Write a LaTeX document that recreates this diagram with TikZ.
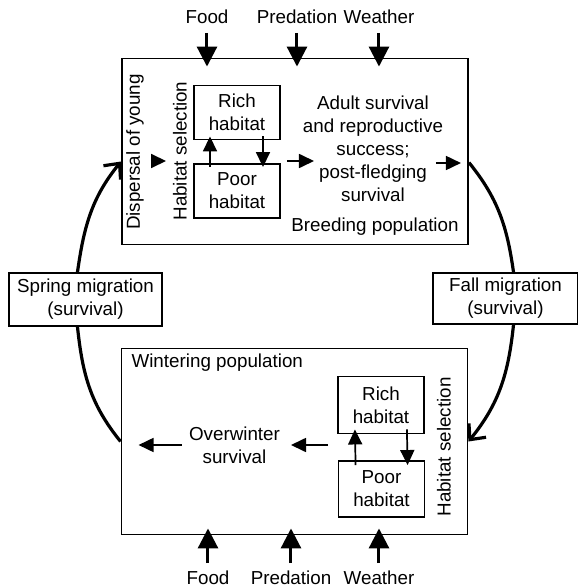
\documentclass[tikz,border=0pt]{standalone}
\usepackage{fontspec}
\setmainfont{Liberation Sans}
\usetikzlibrary{arrows.meta}

\begin{document}
\begin{tikzpicture}[x=0.5pt, y=0.5pt,
    every node/.style={font=\fontsize{9.4}{11.5}\selectfont},
    popbox/.style={draw, line width=0.95pt, minimum width=173pt, minimum height=93pt},
    habbox/.style={draw, line width=0.95pt, minimum width=43pt, minimum height=27pt, align=center, inner sep=1pt},
    migbox/.style={draw, line width=0.95pt, align=center, inner sep=1pt},
    bigarrow/.style={-{Triangle[length=10pt, width=10pt]}, line width=1.5pt},
    smallarrow/.style={-{Triangle[length=7.5pt, width=7pt]}, line width=0.85pt},
    loopline/.style={line width=1.6pt},
    looparrow/.style={loopline, -{Straight Barb[length=6pt, width=11pt, line width=1.6pt]}}]
    \useasboundingbox (0,0) rectangle (578,586);

    \node[popbox] (breed) at (295,434.5) {};
    \node[popbox] (winter) at (294.5,144.5) {};

    \node[migbox, minimum width=76.5pt, minimum height=26.5pt] (spring) at (85.5,286.5) {Spring migration\\(survival)};
    \node[migbox, minimum width=72.5pt, minimum height=25.5pt] (fall) at (505.5,287.5) {Fall migration\\(survival)};

    \node (foodT) at (207,569) {Food};
    \node (predT) at (297,569) {Predation};
    \node (weatT) at (379,569) {Weather};
    \node (foodB) at (208,8) {Food};
    \node (predB) at (291,8) {Predation};
    \node (weatB) at (379,8) {Weather};

    \draw[bigarrow, shorten <=1pt, shorten >=-4.5pt] (foodT) -- (foodT |- breed.north);
    \draw[bigarrow, shorten <=1pt, shorten >=-4.5pt] (predT) -- (predT |- breed.north);
    \draw[bigarrow, shorten <=1pt, shorten >=-4.5pt] (weatT) -- (weatT |- breed.north);
    \draw[bigarrow, shorten <=0.5pt, shorten >=-3.5pt] (foodB) -- (foodB |- winter.south);
    \draw[bigarrow, shorten <=0.5pt, shorten >=-3.5pt] (predB) -- (predB |- winter.south);
    \draw[bigarrow, shorten <=0.5pt, shorten >=-3.5pt] (weatB) -- (weatB |- winter.south);

    \node[rotate=90] (dispT) at (135,434) {Dispersal of young};
    \node[rotate=90] (hselT) at (180,435) {Habitat selection};
    \node[habbox] (richT) at (237,473.5) {Rich\\habitat};
    \node[habbox] (poorT) at (237,395) {Poor\\habitat};
    \node[align=center] (adultT) at (373,437.5) {Adult survival\\and reproductive\\success;\\post-fledging\\survival};
    \node (breedT) at (375,359) {Breeding population};

    \coordinate (adultIn) at (314,425);
    \coordinate (adultOut) at (436,423);
    \draw[smallarrow] (dispT.south |- adultIn) -- (hselT.north |- adultIn);
    \draw[smallarrow, shorten <=-2pt, shorten >=-2pt] ([xshift=-13.5pt]poorT.north) -- ([xshift=-13.5pt]richT.south);
    \draw[smallarrow, shorten <=-2pt, shorten >=-2pt] ([xshift=13pt]richT.south) -- ([xshift=13pt]poorT.north);
    \draw[smallarrow, shorten <=3pt] (poorT.east |- adultIn) -- (adultIn);
    \draw[smallarrow, shorten >=4pt] (adultOut) -- (breed.east |- adultOut);

    \node[anchor=west] (winterT) at (124.5,223) {Wintering population};
    \node[align=center] (owT) at (234.5,141) {Overwinter\\survival};
    \node[habbox, minimum height=28.5pt] (richB) at (381,181) {Rich\\habitat};
    \node[habbox, minimum height=28pt] (poorB) at (381.5,97) {Poor\\habitat};
    \node[rotate=90] (hselB) at (444,139) {Habitat selection};

    \draw[smallarrow, shorten <=-2.5pt, shorten >=-2.5pt] ([xshift=-13pt]poorB.north) -- ([xshift=-13pt]richB.south);
    \draw[smallarrow, shorten <=-2.5pt, shorten >=-2.5pt] ([xshift=13pt]richB.south) -- ([xshift=13pt]poorB.north);
    \draw[smallarrow, shorten <=4.5pt, shorten >=2pt] (richB.west |- owT) -- (owT.east);
    \draw[smallarrow, shorten >=9pt] (owT.west) -- (winter.west |- owT);

    \draw[looparrow] ([xshift=-4pt]spring.north) to[out=82, in=231] ([yshift=-5pt]breed.west);
    \draw[loopline] (winter.west) to[out=129, in=276] ([xshift=-4pt]spring.south);
    \draw[loopline] ([yshift=-5.5pt]breed.east) to[out=-51, in=98] ([xshift=4pt]fall.north);
    \draw[looparrow] ([xshift=4pt]fall.south) to[out=-96, in=51] (winter.east);

\end{tikzpicture}
\end{document}
